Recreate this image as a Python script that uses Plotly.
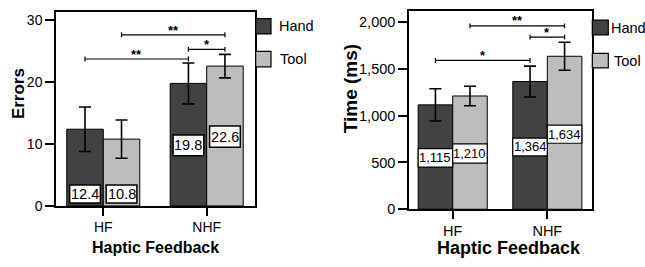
import plotly.graph_objects as go

# ---------------- data ----------------
categories = ["HF", "NHF"]
series_names = ["Hand", "Tool"]

errors_hand = [12.4, 19.8]
errors_tool = [10.8, 22.6]
errors_hand_sd = [3.6, 3.3]
errors_tool_sd = [3.1, 1.9]

time_hand = [1115, 1364]
time_tool = [1210, 1634]
time_hand_sd = [172, 165]
time_tool_sd = [104, 150]

errors_ticks = [0, 10, 20, 30]
time_ticks = [0, 500, 1000, 1500, 2000]

# significance comparisons: (category A, series A, category B, series B, label)
errors_sig = [("HF", "Hand", "NHF", "Hand", "**"),
              ("NHF", "Hand", "NHF", "Tool", "*"),
              ("HF", "Tool", "NHF", "Tool", "**")]
time_sig = [("HF", "Hand", "NHF", "Hand", "*"),
            ("NHF", "Hand", "NHF", "Tool", "*"),
            ("HF", "Tool", "NHF", "Tool", "**")]

# ---------------- style / layout ----------------
W, H = 645, 267
FONT = "Arial, Liberation Sans, sans-serif"
DARK = "#424242"
LIGHT = "#bdbdbd"
COLORS = {"Hand": DARK, "Tool": LIGHT}


def px(x):
    return x / W


def py(y):
    return 1 - y / H


panels = [
    dict(xa="x", ya="y", xname="xaxis", yname="yaxis",
         hand=errors_hand, tool=errors_tool, hsd=errors_hand_sd, tsd=errors_tool_sd,
         bw=0.353, xdom=[px(56), px(255)], xrange=[-0.457, 1.467],
         ydom=[py(212.3), py(12)], yrange=[0, 31.4], ticks=errors_ticks, tickfmt="",
         ytickfont=14, xtickfont=14, sig=errors_sig,
         sig_y=[23.75, 25.3, 27.65], cap=0.4, star_dy=0.75,
         fmt=lambda v: f"{v:.1f}",
         boxes=[[0.47, 3.39], [0.47, 3.39], [8.1, 11.45], [9.5, 12.9]],
         box_inset=0.028, label_font=14.5, box_lw=1.5,
         ytitle="Errors", ytitle_pos=(18, 97), ytitle_size=17,
         xtitle_pos=(155.8, 255), xtitle_size=16,
         leg_x=(255.7, 271), leg_y=[(19.3, 35), (53, 69)], leg_text_x=[276.7, 277.7],
         leg_size=14.5),
    dict(xa="x2", ya="y2", xname="xaxis2", yname="yaxis2",
         hand=time_hand, tool=time_tool, hsd=time_hand_sd, tsd=time_tool_sd,
         bw=0.365, xdom=[px(409), px(591.5)], xrange=[-0.462, 1.467],
         ydom=[py(215.7), py(11.7)], yrange=[0, 2114], ticks=time_ticks, tickfmt=",",
         ytickfont=14.5, xtickfont=14.5, sig=time_sig,
         sig_y=[1590, 1838, 1959], cap=26, star_dy=55,
         fmt=lambda v: f"{v:,}",
         boxes=[[450, 647], [492, 698], [570, 760], [705, 898]],
         box_inset=0.0, label_font=13, box_lw=1.2,
         ytitle="Time (ms)", ytitle_pos=(350, 92), ytitle_size=19,
         xtitle_pos=(509, 255.5), xtitle_size=18,
         leg_x=(592.3, 608.3), leg_y=[(20.7, 36), (55, 70)], leg_text_x=[609, 611.5],
         leg_size=14.5),
]

fig = go.Figure()
shapes = []
annotations = []
layout_axes = {}

for p in panels:
    bw = p["bw"]
    offsets = {"Hand": -bw, "Tool": 0.0}
    vals = {"Hand": p["hand"], "Tool": p["tool"]}
    sds = {"Hand": p["hsd"], "Tool": p["tsd"]}
    for s in series_names:
        fig.add_trace(go.Bar(
            x=categories, y=vals[s], name=s, xaxis=p["xa"], yaxis=p["ya"],
            width=bw, offset=offsets[s],
            marker=dict(color=COLORS[s], line=dict(color="black", width=1)),
            error_y=dict(type="data", array=sds[s], visible=True,
                         color="black", thickness=1.6, width=6),
            showlegend=False, hoverinfo="skip",
        ))

    # value label boxes
    k = 0
    for ci, c in enumerate(categories):
        for s in series_names:
            x0 = ci + offsets[s] + p["box_inset"]
            x1 = ci + offsets[s] + bw - p["box_inset"]
            y0, y1 = p["boxes"][k]
            shapes.append(dict(type="rect", xref=p["xa"], yref=p["ya"],
                               x0=x0, x1=x1, y0=y0, y1=y1,
                               fillcolor="white", line=dict(color="black", width=p["box_lw"]),
                               layer="above"))
            annotations.append(dict(x=(x0 + x1) / 2, y=(y0 + y1) / 2, xref=p["xa"], yref=p["ya"],
                                    text=p["fmt"](vals[s][ci]), showarrow=False,
                                    font=dict(family=FONT, size=p["label_font"], color="black")))
            k += 1

    # significance brackets
    for (ca, sa, cb, sb, lab), yy in zip(p["sig"], p["sig_y"]):
        xa_ = categories.index(ca) + offsets[sa] + bw / 2
        xb_ = categories.index(cb) + offsets[sb] + bw / 2
        shapes.append(dict(type="line", xref=p["xa"], yref=p["ya"], x0=xa_, x1=xb_, y0=yy, y1=yy,
                           line=dict(color="black", width=1.2)))
        for xx in (xa_, xb_):
            shapes.append(dict(type="line", xref=p["xa"], yref=p["ya"], x0=xx, x1=xx,
                               y0=yy - p["cap"], y1=yy + p["cap"],
                               line=dict(color="black", width=1.2)))
        annotations.append(dict(x=(xa_ + xb_) / 2, y=yy + p["star_dy"], xref=p["xa"], yref=p["ya"],
                                text=f"<b>{lab}</b>", showarrow=False, yanchor="middle",
                                font=dict(family=FONT, size=13, color="black")))

    # legend (boxes + text)
    for i, s in enumerate(series_names):
        ly0, ly1 = p["leg_y"][i]
        shapes.append(dict(type="rect", xref="paper", yref="paper",
                           x0=px(p["leg_x"][0]), x1=px(p["leg_x"][1]), y0=py(ly1), y1=py(ly0),
                           fillcolor=COLORS[s], line=dict(color="black", width=1.2)))
        annotations.append(dict(x=px(p["leg_text_x"][i]), y=py((ly0 + ly1) / 2), xref="paper", yref="paper",
                                text=s, showarrow=False, xanchor="left", yanchor="middle",
                                font=dict(family=FONT, size=p["leg_size"], color="black")))

    # axis titles
    annotations.append(dict(x=px(p["ytitle_pos"][0]), y=py(p["ytitle_pos"][1]), xref="paper", yref="paper",
                            text=f"<b>{p['ytitle']}</b>", textangle=-90, showarrow=False,
                            xanchor="center", yanchor="middle",
                            font=dict(family=FONT, size=p["ytitle_size"], color="black")))
    annotations.append(dict(x=px(p["xtitle_pos"][0]), y=py(p["xtitle_pos"][1]), xref="paper", yref="paper",
                            text="<b>Haptic Feedback</b>", showarrow=False,
                            xanchor="center", yanchor="middle",
                            font=dict(family=FONT, size=p["xtitle_size"], color="black")))

    layout_axes[p["xname"]] = dict(
        domain=p["xdom"], range=p["xrange"], type="category",
        showline=True, linecolor="black", linewidth=1.5, mirror=True,
        ticks="outside", ticklen=8, tickwidth=1.5, tickcolor="black",
        showgrid=False, zeroline=False, anchor=p["ya"],
        tickfont=dict(family=FONT, size=p["xtickfont"], color="black"),
    )
    layout_axes[p["yname"]] = dict(
        domain=p["ydom"], range=p["yrange"], tickvals=p["ticks"], tickformat=p["tickfmt"],
        showline=True, linecolor="black", linewidth=1.5, mirror=True,
        ticks="outside", ticklen=9, tickwidth=1.5, tickcolor="black",
        showgrid=False, zeroline=False, anchor=p["xa"],
        tickfont=dict(family=FONT, size=p["ytickfont"], color="black"),
    )

fig.update_layout(
    width=W, height=H, margin=dict(l=0, r=0, t=0, b=0),
    paper_bgcolor="white", plot_bgcolor="white",
    barmode="overlay", showlegend=False,
    shapes=shapes, annotations=annotations,
    **layout_axes,
)

# let the figure fill the window exactly (no default 8px page margin, no scrollbars)
fig.write_html("out.html",
               config={"displayModeBar": False},
               post_script="document.body.style.margin='0';document.body.style.overflow='hidden';")
